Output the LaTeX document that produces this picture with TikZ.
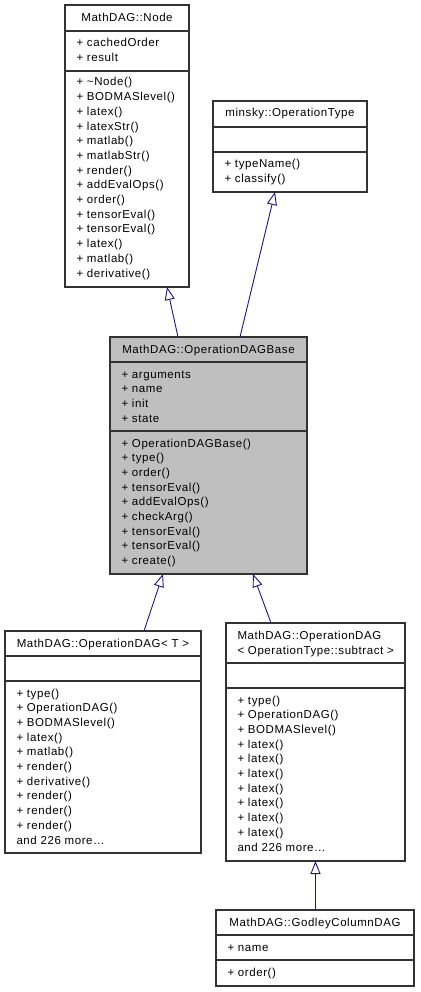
\documentclass[tikz,border=0pt]{standalone}
\usepackage{fontspec}
\setmainfont{Liberation Sans}[LetterSpace=5]
\usetikzlibrary{arrows.meta}
\definecolor{edgeblue}{HTML}{191970}
\definecolor{basegray}{HTML}{BFBFBF}
\definecolor{boxline}{HTML}{333333}
\begin{document}
\begin{tikzpicture}[x=1pt,y=-1pt,
  box/.style={draw=boxline, line width=1.1pt, anchor=north west, inner sep=0pt, outer sep=0pt},
  sepline/.style={draw=boxline, line width=1.1pt},
  member/.style={anchor=base west, inner sep=0pt, font=\fontsize{11.5}{14}\selectfont},
  ctitle/.style={anchor=base, inner sep=0pt, font=\fontsize{11.5}{14}\selectfont},
  inherit/.style={draw=edgeblue, line width=0.9pt, -{Triangle[length=13pt,width=10pt,fill=white]}}
]
\useasboundingbox (0,0) rectangle (420,992);

% ---------- MathDAG::Node
\node[box, minimum width=124pt, minimum height=282pt] (nodebox) at (65,5) {};
\draw[sepline] (65,31) -- (189,31);
\draw[sepline] (65,71) -- (189,71);
\node[ctitle] (nodetitle) at (127,21.5) {MathDAG::Node};
\foreach \t [count=\i] in {+ cachedOrder,+ result}
  \node[member] (nodeA\i) at (76.3,{47+14.7*(\i-1)}) {\t};
\foreach \t [count=\i] in {+ \textasciitilde Node(),+ BODMASlevel(),+ latex(),+ latexStr(),+ matlab(),+ matlabStr(),+ render(),+ addEvalOps(),+ order(),+ tensorEval(),+ tensorEval(),+ latex(),+ matlab(),+ derivative()}
  \node[member] (nodeM\i) at (76.3,{86+14.7*(\i-1)}) {\t};

% ---------- minsky::OperationType
\node[box, minimum width=154pt, minimum height=91pt] (optype) at (213,101) {};
\draw[sepline] (213,127) -- (367,127);
\draw[sepline] (213,152) -- (367,152);
\node[ctitle] (optypetitle) at (290,116.5) {minsky::OperationType};
\foreach \t [count=\i] in {+ typeName(),+ classify()}
  \node[member] (optypeM\i) at (224.3,{168+14.7*(\i-1)}) {\t};

% ---------- MathDAG::OperationDAGBase
\node[box, fill=basegray, minimum width=197pt, minimum height=237pt] (base) at (110,337) {};
\draw[sepline] (110,362) -- (307,362);
\draw[sepline] (110,431) -- (307,431);
\node[ctitle] (basetitle) at (208.5,353) {MathDAG::OperationDAGBase};
\foreach \t [count=\i] in {+ arguments,+ name,+ init,+ state}
  \node[member] (baseA\i) at (121.3,{378+14.7*(\i-1)}) {\t};
\foreach \t [count=\i] in {+ OperationDAGBase(),+ type(),+ order(),+ tensorEval(),+ addEvalOps(),+ checkArg(),+ tensorEval(),+ tensorEval(),+ create()}
  \node[member] (baseM\i) at (121.3,{447+14.7*(\i-1)}) {\t};

% ---------- MathDAG::OperationDAG< T >
\node[box, minimum width=196pt, minimum height=222pt] (opT) at (5,631) {};
\draw[sepline] (5,656) -- (201,656);
\draw[sepline] (5,681) -- (201,681);
\node[ctitle] (opTtitle) at (103,647) {MathDAG::OperationDAG< T >};
\foreach \t [count=\i] in {+ type(),+ OperationDAG(),+ BODMASlevel(),+ latex(),+ matlab(),+ render(),+ derivative(),+ render(),+ render(),+ render(),and 226 more…}
  \node[member] (opTM\i) at (16.3,{697+14.7*(\i-1)}) {\t};

% ---------- MathDAG::OperationDAG< OperationType::subtract >
\node[box, minimum width=179pt, minimum height=238pt] (opsub) at (226,623) {};
\draw[sepline] (226,663) -- (405,663);
\draw[sepline] (226,688) -- (405,688);
\node[member] (opsubtitleA) at (237.3,639) {MathDAG::OperationDAG};
\node[member] (opsubtitleB) at (237.3,654) {< OperationType::subtract >};
\foreach \t [count=\i] in {+ type(),+ OperationDAG(),+ BODMASlevel(),+ latex(),+ latex(),+ latex(),+ latex(),+ latex(),+ latex(),+ latex(),and 226 more…}
  \node[member] (opsubM\i) at (237.3,{704+14.7*(\i-1)}) {\t};

% ---------- MathDAG::GodleyColumnDAG
\node[box, minimum width=198pt, minimum height=76pt] (godley) at (216,910) {};
\draw[sepline] (216,935) -- (414,935);
\draw[sepline] (216,960) -- (414,960);
\node[ctitle] (godleytitle) at (315,926) {MathDAG::GodleyColumnDAG};
\node[member] (godleyA1) at (227.3,951) {+ name};
\node[member] (godleyM1) at (227.3,976) {+ order()};

% ---------- inheritance connectors
\draw[inherit] ([xshift=68pt]base.north west) -- ([xshift=102pt]nodebox.south west);
\draw[inherit] ([xshift=130pt]base.north west) -- ([xshift=62pt]optype.south west);
\draw[inherit] ([xshift=139pt]opT.north west) -- ([xshift=53pt]base.south west);
\draw[inherit] ([xshift=45pt]opsub.north west) -- ([xshift=143pt]base.south west);
\draw[inherit] (godley.north -| opsub.south) -- (opsub.south);
\end{tikzpicture}
\end{document}
